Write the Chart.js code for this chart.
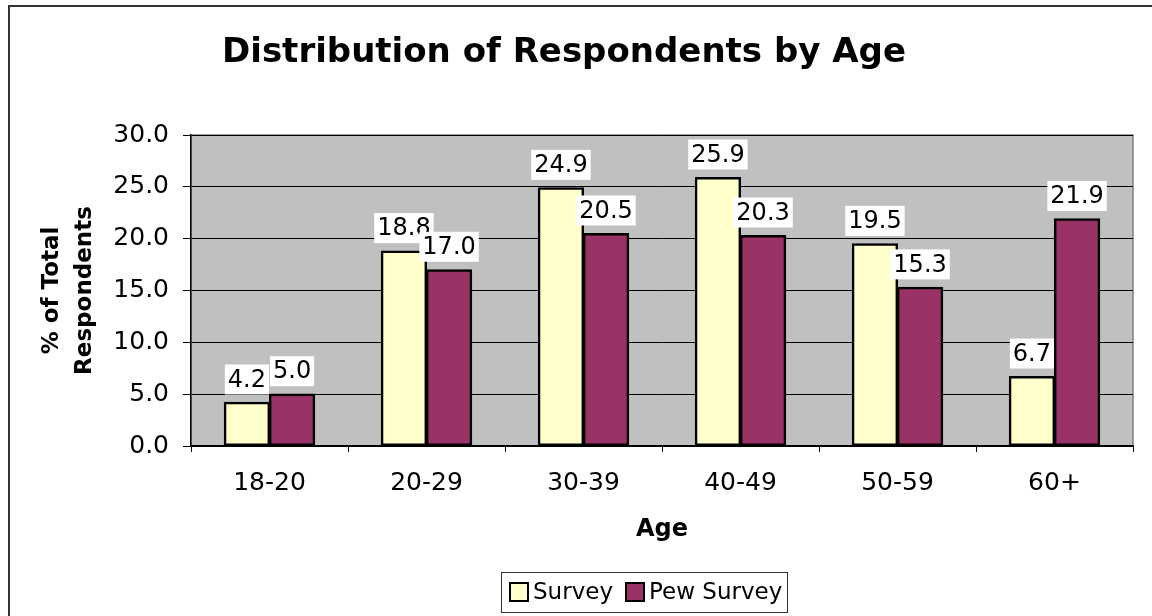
<!DOCTYPE html>
<html>
<head>
<meta charset="utf-8">
<script src="https://cdn.jsdelivr.net/npm/chart.js@4.4.1/dist/chart.umd.min.js"></script>
<style>
  body { margin: 0; background: #fff; }
  canvas { display: block; }
</style>
</head>
<body>
<canvas id="graphic-age" width="1152" height="616"></canvas>
<script>
const chartTitle = 'Distribution of Respondents by Age';
const ageGroups = ['18-20', '20-29', '30-39', '40-49', '50-59', '60+'];
const surveyPct = [4.2, 18.8, 24.9, 25.9, 19.5, 6.7];
const pewPct = [5.0, 17.0, 20.5, 20.3, 15.3, 21.9];
const seriesNames = ['Survey', 'Pew Survey'];
const yMin = 0, yMax = 30, yStep = 5;

const font = 'DejaVu Sans, Verdana, sans-serif';

// grey plot area + outer frame
const backdrop = {
    id: 'backdrop',
    beforeDraw(chart) {
        const ctx = chart.ctx;
        const a = chart.chartArea;
        ctx.save();
        ctx.fillStyle = '#fff';
        ctx.fillRect(0, 0, chart.width, chart.height);
        ctx.strokeStyle = '#333';
        ctx.lineWidth = 2;
        ctx.beginPath();
        ctx.moveTo(9, chart.height + 5);
        ctx.lineTo(9, 6);
        ctx.lineTo(chart.width + 5, 6);
        ctx.stroke();
        ctx.fillStyle = '#C0C0C0';
        ctx.fillRect(a.left, a.top, a.right - a.left, a.bottom - a.top);
        ctx.strokeStyle = '#808080';
        ctx.lineWidth = 1.5;
        ctx.strokeRect(a.left, a.top, a.right - a.left, a.bottom - a.top);
        ctx.restore();
    }
};

// title drawn by hand (it sits a bit left of centre in the original)
const titleText = {
    id: 'titleText',
    afterDraw(chart) {
        const ctx = chart.ctx;
        ctx.save();
        ctx.font = 'bold 34px ' + font;
        ctx.fillStyle = '#000';
        ctx.textAlign = 'center';
        ctx.textBaseline = 'alphabetic';
        ctx.fillText(chartTitle, 564, 62);
        ctx.restore();
    }
};

// value labels on white boxes
const valueLabels = {
    id: 'valueLabels',
    afterDatasetsDraw(chart) {
        const ctx = chart.ctx;
        ctx.save();
        ctx.font = '24px ' + font;
        ctx.textAlign = 'center';
        ctx.textBaseline = 'middle';
        chart.data.datasets.forEach((ds, i) => {
            chart.getDatasetMeta(i).data.forEach((bar, j) => {
                const txt = ds.data[j].toFixed(1);
                const w = ctx.measureText(txt).width + 6;
                const cy = bar.y - 23;
                ctx.fillStyle = '#fff';
                ctx.fillRect(bar.x - w / 2, cy - 15, w, 30);
                ctx.fillStyle = '#000';
                ctx.fillText(txt, bar.x, cy + 1);
            });
        });
        ctx.restore();
    }
};

// boxed legend at the bottom
const boxLegend = {
    id: 'boxLegend',
    afterDraw(chart) {
        const ctx = chart.ctx;
        ctx.save();
        ctx.strokeStyle = '#333';
        ctx.lineWidth = 1;
        ctx.fillStyle = '#fff';
        ctx.fillRect(501.5, 572.5, 286, 40);
        ctx.strokeRect(501.5, 572.5, 286, 40);
        ctx.font = '23px ' + font;
        ctx.textBaseline = 'middle';
        ctx.textAlign = 'left';
        let x = 510;
        chart.data.datasets.forEach(ds => {
            ctx.fillStyle = ds.backgroundColor;
            ctx.fillRect(x, 583, 18, 18);
            ctx.strokeStyle = '#000';
            ctx.lineWidth = 2;
            ctx.strokeRect(x, 583, 18, 18);
            ctx.fillStyle = '#000';
            ctx.fillText(ds.label, x + 23, 593);
            x += 23 + ctx.measureText(ds.label).width + 13;
        });
        ctx.restore();
    }
};

const data = {
    labels: ageGroups,
    datasets: [{
        label: seriesNames[0],
        data: surveyPct,
        backgroundColor: '#FFFFCC',
        borderColor: '#000',
        borderWidth: 2.5,
        borderSkipped: false,
        inflateAmount: 0.6,
        barPercentage: 1,
        categoryPercentage: 0.575
    }, {
        label: seriesNames[1],
        data: pewPct,
        backgroundColor: '#993366',
        borderColor: '#000',
        borderWidth: 2.5,
        borderSkipped: false,
        inflateAmount: 0.6,
        barPercentage: 1,
        categoryPercentage: 0.575
    }]
};

const config = {
    type: 'bar',
    data: data,
    options: {
        responsive: false,
        animation: false,
        layout: { padding: { left: 0, right: 19, top: 135, bottom: 0 } },
        plugins: {
            legend: { display: false },
            title: { display: false },
            tooltip: { enabled: false }
        },
        scales: {
            x: {
                afterFit(scale) { scale.height = 170; },
                grid: {
                    offset: true,
                    drawOnChartArea: false,
                    drawTicks: true,
                    tickLength: 6,
                    tickColor: '#000'
                },
                border: { color: '#000', width: 1.5 },
                ticks: { color: '#000', padding: 16, font: { family: font, size: 25 } },
                title: {
                    display: true,
                    text: 'Age',
                    color: '#000',
                    font: { family: font, size: 24, weight: 'bold' },
                    padding: { top: 0, bottom: 72 }
                }
            },
            y: {
                min: yMin,
                max: yMax,
                afterFit(scale) { scale.width = 191; },
                grid: {
                    color: '#000',
                    lineWidth: 1,
                    drawTicks: true,
                    tickLength: 8,
                    tickColor: '#000'
                },
                border: { color: '#000', width: 1.5 },
                ticks: {
                    stepSize: yStep,
                    color: '#000',
                    padding: 14,
                    font: { family: font, size: 25 },
                    callback: v => v.toFixed(1)
                },
                title: {
                    display: true,
                    text: ['% of Total', 'Respondents'],
                    color: '#000',
                    font: { family: font, size: 23, weight: 'bold', lineHeight: 1.43 },
                    padding: { top: 36, bottom: 0 }
                }
            }
        }
    },
    plugins: [backdrop, valueLabels, titleText, boxLegend]
};

new Chart(document.getElementById('graphic-age'), config);
</script>
</body>
</html>
